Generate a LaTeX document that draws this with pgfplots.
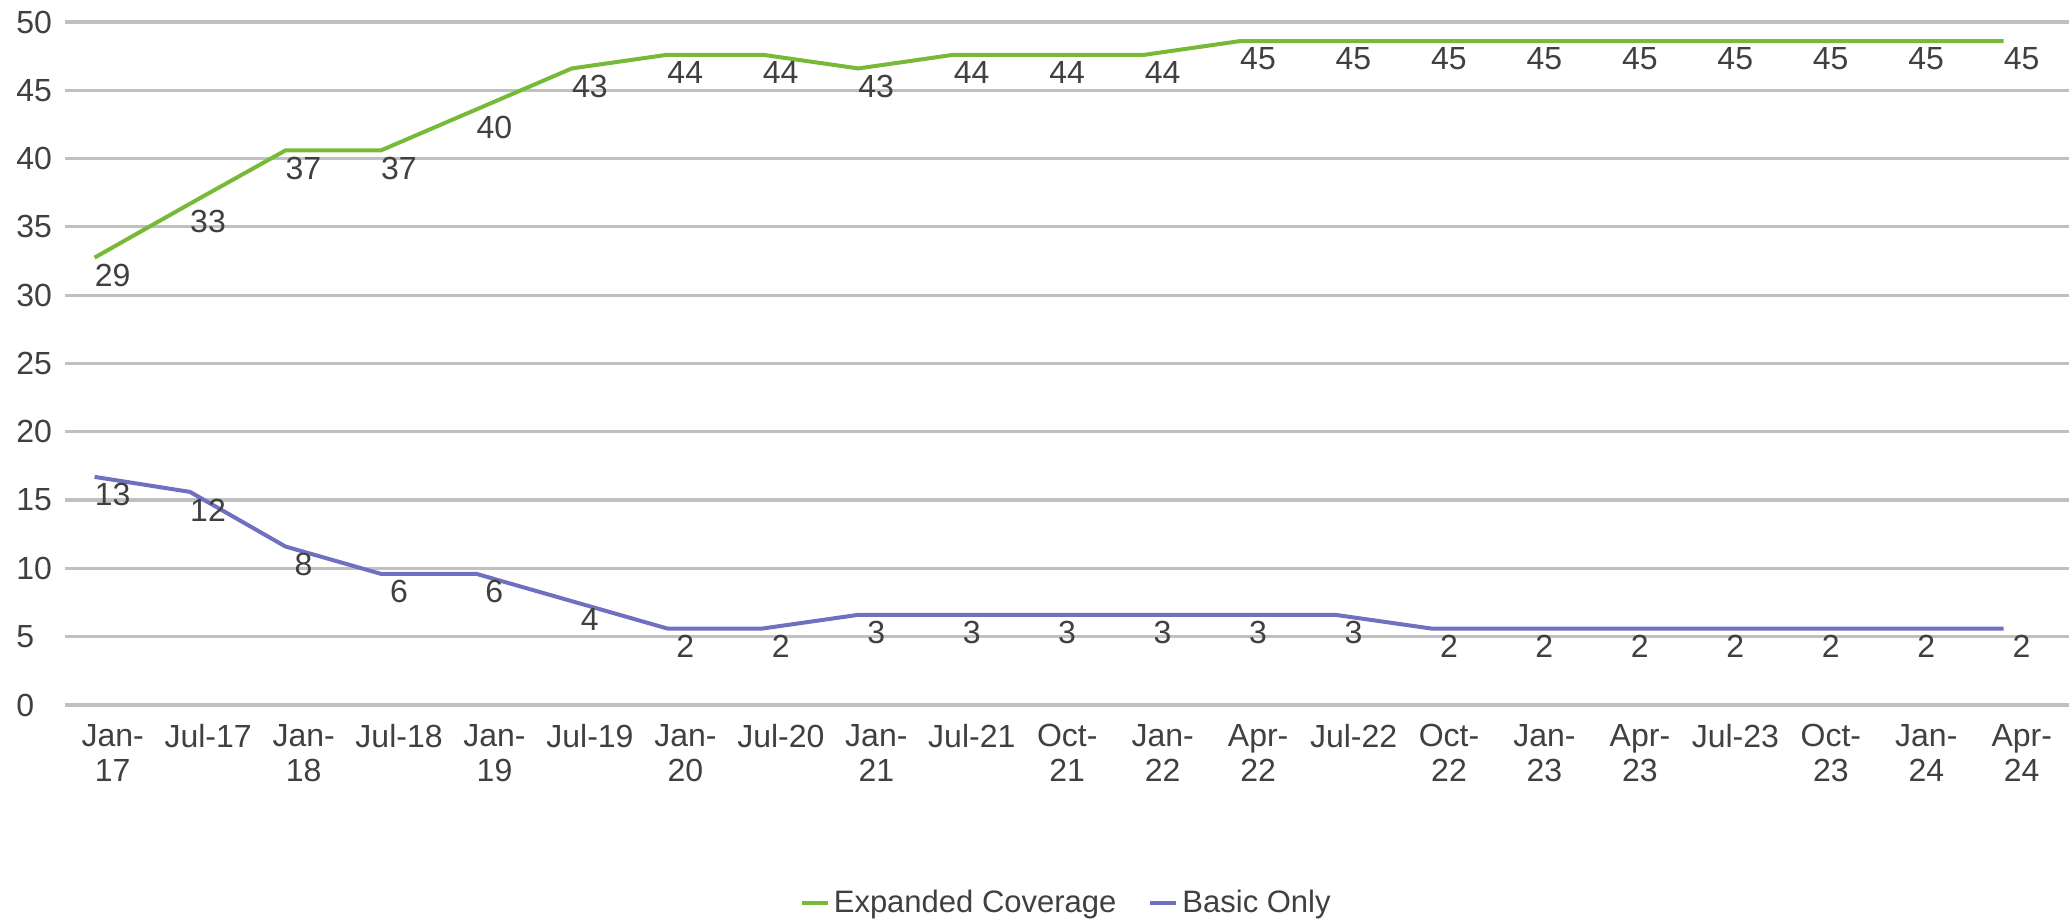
\documentclass[border=0pt]{standalone}
\usepackage{fontspec}
\setmainfont{Liberation Sans}
\usepackage{pgfplots}
\usepackage{pgfplotstable}
\pgfplotsset{compat=1.18}
\definecolor{expgreen}{RGB}{120,186,56}
\definecolor{basicpurple}{RGB}{112,112,192}
\definecolor{txt}{RGB}{64,64,64}
\definecolor{gridgray}{RGB}{192,192,192}

\pgfplotstableread{
x y lab
0 32.75 29
1 36.7 33
2 40.6 37
3 40.6 37
4 43.6 40
5 46.6 43
6 47.6 44
7 47.6 44
8 46.6 43
9 47.6 44
10 47.6 44
11 47.6 44
12 48.6 45
13 48.6 45
14 48.6 45
15 48.6 45
16 48.6 45
17 48.6 45
18 48.6 45
19 48.6 45
20 48.6 45
}\datExp

\pgfplotstableread{
x y lab
0 16.7 13
1 15.6 12
2 11.6 8
3 9.6 6
4 9.6 6
5 7.6 4
6 5.6 2
7 5.6 2
8 6.6 3
9 6.6 3
10 6.6 3
11 6.6 3
12 6.6 3
13 6.6 3
14 5.6 2
15 5.6 2
16 5.6 2
17 5.6 2
18 5.6 2
19 5.6 2
20 5.6 2
}\datBasic

\begin{document}
\begin{tikzpicture}
\useasboundingbox (0,0) rectangle (1035pt,460pt);
\begin{axis}[
  at={(32.5pt,107.5pt)}, anchor=south west,
  scale only axis,
  width=1002.25pt, height=341.5pt,
  xmin=-0.5, xmax=20.5,
  ymin=0, ymax=50,
  ytick={0,5,...,50},
  xtick={0,...,20},
  xticklabels={{Jan-\\17},{Jul-17},{Jan-\\18},{Jul-18},{Jan-\\19},{Jul-19},{Jan-\\20},{Jul-20},{Jan-\\21},{Jul-21},{Oct-\\21},{Jan-\\22},{Apr-\\22},{Jul-22},{Oct-\\22},{Jan-\\23},{Apr-\\23},{Jul-23},{Oct-\\23},{Jan-\\24},{Apr-\\24}},
  axis line style={draw=none},
  major tick length=0pt,
  ymajorgrids,
  major grid style={draw=gridgray, line width=1.6pt},
  /pgf/number format/assume math mode=true,
  yticklabel style={font=\fontsize{16}{18}\selectfont, text=txt, anchor=west, inner sep=0pt, xshift=-24.5pt},
  xticklabel style={font=\fontsize{16}{17.5}\selectfont, text=txt, align=center, yshift=-6pt},
  clip=false,
  point meta=explicit symbolic,
  nodes near coords={\pgfplotspointmeta},
  every node near coord/.append style={font=\fontsize{16}{18}\selectfont, text=txt, anchor=center, xshift=9pt, yshift=-9pt},
  legend style={at={(0.5,-0.29)}, anchor=center, draw=none, fill=none,
    font=\fontsize{15.5}{17}\selectfont, text=txt,
    /tikz/every even column/.append style={column sep=14pt}},
  legend columns=2,
  legend image code/.code={\draw[#1] (0pt,0pt) -- (13pt,0pt);},
]
\addplot[draw=expgreen, line width=2pt, mark=none] table[x expr=\thisrow{x}-0.19, y=y, meta=lab] {\datExp};
\addlegendentry{Expanded Coverage}
\addplot[draw=basicpurple, line width=2pt, mark=none] table[x expr=\thisrow{x}-0.19, y=y, meta=lab] {\datBasic};
\addlegendentry{Basic Only}
\end{axis}
\end{tikzpicture}
\end{document}
